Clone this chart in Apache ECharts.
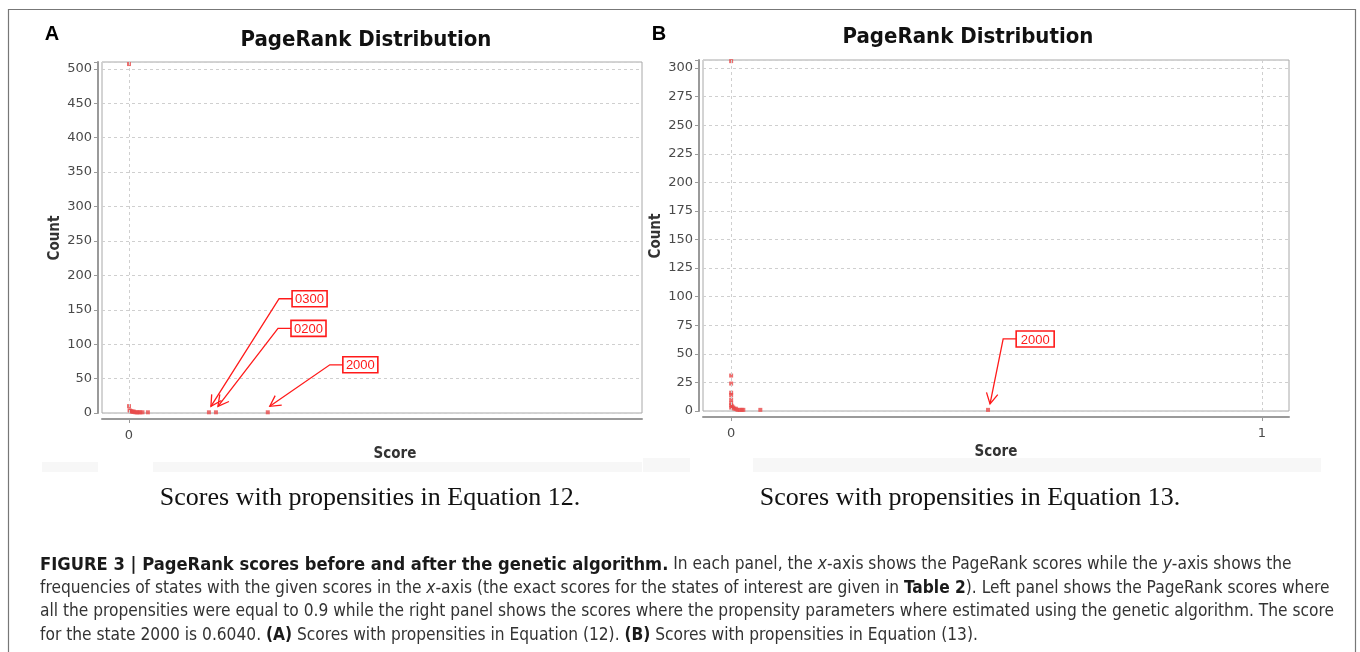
<!DOCTYPE html>
<html><head><meta charset="utf-8">
<script src="https://cdn.jsdelivr.net/npm/echarts@6/dist/echarts.min.js"></script>
<style>html,body{margin:0;padding:0;background:#fff}#c{width:1360px;height:652px}</style>
</head><body><div id="c"></div>
<script>
// Panel A data (Equation 12 propensities)
const scoresA = [0, 0, 0.001, 0.003, 0.005, 0.007, 0.009, 0.012, 0.015, 0.018, 0.021, 0.025, 0.035, 0.148, 0.161, 0.257];
const countsA = [507, 10, 4, 3, 2, 2, 2, 1, 1, 1, 1, 1, 1, 1, 1, 1];
// Panel B data (Equation 13 propensities)
const scoresB = [0, 0, 0, 0, 0, 0, 0, 0, 0, 0.002, 0.004, 0.006, 0.009, 0.012, 0.016, 0.020, 0.023, 0.055, 0.484];
const countsB = [306, 31, 24, 16, 14, 10, 7, 5, 3, 4, 3, 2, 2, 1, 1, 1, 1, 1, 1];
// Annotations: state name, target point, label anchor (data coords)
const annotNamesA = ['0300', '0200', '2000'];
const annotTargetScoreA = [0.148, 0.161, 0.257];
const annotTargetCountA = [1, 1, 1];
const annotLabelScoreA = [0.302, 0.300, 0.396];
const annotLabelCountA = [166, 123, 70];
const annotNamesB = ['2000'];
const annotTargetScoreB = [0.484];
const annotTargetCountB = [1];
const annotLabelScoreB = [0.537];
const annotLabelCountB = [63];
// Tick labels
const xTicksA = [0];
const xTicksB = [0, 1];
const yTicksA = [0, 50, 100, 150, 200, 250, 300, 350, 400, 450, 500];
const yTicksB = [0, 25, 50, 75, 100, 125, 150, 175, 200, 225, 250, 275, 300];

const RED = '#ff1a1a';
const PT = '#e84a4a';
const chart = echarts.init(document.getElementById('c'), null, {renderer: 'canvas'});

function zipPts(xs, ys) { return xs.map((x, i) => [x, ys[i]]); }
function zipAnn(a, b, c, d) { return a.map((v, i) => [v, b[i], c[i], d[i]]); }

function makeRender(names, boxW) {
  return function (params, api) {
    const tip0 = api.coord([api.value(0), api.value(1)]);
    const lab = api.coord([api.value(2), api.value(3)]);
    const tip = [tip0[0] + 2, tip0[1] - 6];
    const elbow = [lab[0] - 13, lab[1]];
    let dx = elbow[0] - tip[0], dy = elbow[1] - tip[1];
    const len = Math.sqrt(dx * dx + dy * dy); dx /= len; dy /= len;
    const L = 12, a = 0.5;
    const rot = (ang) => [tip[0] + L * (dx * Math.cos(ang) - dy * Math.sin(ang)), tip[1] + L * (dx * Math.sin(ang) + dy * Math.cos(ang))];
    const h1 = rot(a), h2 = rot(-a);
    return {type: 'group', children: [
      {type: 'polyline', shape: {points: [lab, elbow, tip]}, style: {stroke: RED, fill: 'none', lineWidth: 1.3}},
      {type: 'polyline', shape: {points: [h1, tip, h2]}, style: {stroke: RED, fill: 'none', lineWidth: 1.3}},
      {type: 'rect', shape: {x: lab[0], y: lab[1] - 8, width: boxW, height: 16}, style: {fill: '#fff', stroke: RED, lineWidth: 1.6}},
      {type: 'text', style: {text: names[params.dataIndex], x: lab[0] + boxW / 2, y: lab[1] + 1, align: 'center', verticalAlign: 'middle', fill: RED, font: '13px "Liberation Sans", Arial, sans-serif'}}
    ]};
  };
}

function xAxisCfg(gi, min, max, ticks) {
  return {type: 'value', gridIndex: gi, min: min, max: max, offset: 6,
    axisLine: {show: true, onZero: false, lineStyle: {color: '#9a9a9a', width: 2}},
    axisTick: {show: true, customValues: ticks, length: 4, lineStyle: {color: '#9a9a9a'}},
    axisLabel: {show: true, customValues: ticks, color: '#4a4a4a', fontSize: 13, fontFamily: 'DejaVu Sans', margin: 10,
      formatter: v => (ticks.indexOf(v) >= 0 ? String(v) : '')},
    splitLine: {show: false}};
}
function yAxisCfg(gi, max, interval, ticks) {
  return {type: 'value', gridIndex: gi, min: 0, max: max, interval: interval, offset: 4,
    axisLine: {show: true, onZero: false, lineStyle: {color: '#9a9a9a', width: 2}},
    axisTick: {show: true, length: 4, lineStyle: {color: '#9a9a9a'}},
    axisLabel: {color: '#4a4a4a', fontSize: 13, fontFamily: 'DejaVu Sans', margin: 6,
      formatter: v => (ticks.indexOf(v) >= 0 ? String(v) : '')},
    splitLine: {show: true, lineStyle: {color: '#cfcfcf', type: [3, 3], width: 1}}};
}

const vline = (vals) => ({silent: true, symbol: 'none', label: {show: false}, animation: false,
  lineStyle: {color: '#cfcfcf', type: [3, 3], width: 1}, data: vals.map(v => ({xAxis: v}))});

const CAPF = '"Liberation Sans Narrow", "DejaVu Sans Condensed", sans-serif';
const CAPS = 17.2;
const capStyle = {
  b: {fontWeight: 'bold', fill: '#1a1a1a', fontSize: 18.2, fontFamily: CAPF},
  t: {fontWeight: 'bold', fill: '#1a1a1a', fontSize: CAPS, fontFamily: CAPF},
  i: {fontStyle: 'italic', fill: '#333', fontSize: CAPS, fontFamily: CAPF}
};
function capLine(y, txt) {
  return {type: 'text', x: 40, y: y, style: {text: txt, rich: capStyle, fill: '#333', fontSize: CAPS, fontFamily: CAPF, verticalAlign: 'middle'}};
}
const titleFont = {fontWeight: 'bold', fontSize: 22, fontFamily: '"DejaVu Sans Condensed", "DejaVu Sans", sans-serif', fill: '#111'};
const axName = {fontWeight: 'bold', fontSize: 15, fontFamily: '"DejaVu Sans Condensed", "DejaVu Sans"', fill: '#333', align: 'center', verticalAlign: 'middle'};
const subCap = {fontSize: 26, fontFamily: '"Liberation Serif", "Times New Roman", serif', fill: '#111', align: 'center', verticalAlign: 'middle'};

chart.setOption({
  animation: false,
  backgroundColor: '#fff',
  grid: [
    {left: 102, right: 718, top: 62, bottom: 239, show: true, borderColor: '#a8a8a8', borderWidth: 1, backgroundColor: '#fff'},
    {left: 703, right: 71, top: 60, bottom: 241, show: true, borderColor: '#a8a8a8', borderWidth: 1, backgroundColor: '#fff'}
  ],
  xAxis: [xAxisCfg(0, -0.05, 0.95, xTicksA), xAxisCfg(1, -0.053, 1.051, xTicksB)],
  yAxis: [yAxisCfg(0, 510, 50, yTicksA), yAxisCfg(1, 307, 25, yTicksB)],
  series: [
    {type: 'scatter', xAxisIndex: 0, yAxisIndex: 0, symbol: 'rect', symbolSize: 4, itemStyle: {color: PT},
      data: zipPts(scoresA, countsA), markLine: vline(xTicksA), z: 3},
    {type: 'scatter', xAxisIndex: 1, yAxisIndex: 1, symbol: 'rect', symbolSize: 4, itemStyle: {color: PT},
      data: zipPts(scoresB, countsB), markLine: vline(xTicksB), z: 3},
    {type: 'custom', xAxisIndex: 0, yAxisIndex: 0, clip: false, z: 4, encode: {x: [0, 2], y: [1, 3]},
      renderItem: makeRender(annotNamesA, 35),
      data: zipAnn(annotTargetScoreA, annotTargetCountA, annotLabelScoreA, annotLabelCountA)},
    {type: 'custom', xAxisIndex: 1, yAxisIndex: 1, clip: false, z: 4, encode: {x: [0, 2], y: [1, 3]},
      renderItem: makeRender(annotNamesB, 38),
      data: zipAnn(annotTargetScoreB, annotTargetCountB, annotLabelScoreB, annotLabelCountB)}
  ],
  graphic: [
    {type: 'rect', x: 0, y: 0, shape: {x: 8.5, y: 9.5, width: 1347, height: 660}, style: {fill: 'none', stroke: '#777', lineWidth: 1.2}, z: -10},
    {type: 'rect', x: 0, y: 0, shape: {x: 42, y: 462, width: 56, height: 10}, style: {fill: '#f7f7f7'}, z: -5},
    {type: 'rect', x: 0, y: 0, shape: {x: 153, y: 462, width: 489, height: 10}, style: {fill: '#f7f7f7'}, z: -5},
    {type: 'rect', x: 0, y: 0, shape: {x: 643, y: 458, width: 47, height: 14}, style: {fill: '#f7f7f7'}, z: -5},
    {type: 'rect', x: 0, y: 0, shape: {x: 753, y: 458, width: 568, height: 14}, style: {fill: '#f7f7f7'}, z: -5},
    {type: 'text', x: 52, y: 34, style: {text: 'A', align: 'center', verticalAlign: 'middle', fontWeight: 'bold', fontSize: 20, fontFamily: '"Liberation Sans", Arial', fill: '#000'}},
    {type: 'text', x: 659, y: 34, style: {text: 'B', align: 'center', verticalAlign: 'middle', fontWeight: 'bold', fontSize: 20, fontFamily: '"Liberation Sans", Arial', fill: '#000'}},
    {type: 'text', x: 366, y: 40, style: Object.assign({text: 'PageRank Distribution', align: 'center', verticalAlign: 'middle'}, titleFont)},
    {type: 'text', x: 968, y: 37, style: Object.assign({text: 'PageRank Distribution', align: 'center', verticalAlign: 'middle'}, titleFont)},
    {type: 'text', x: 55, y: 238, rotation: Math.PI / 2, style: Object.assign({text: 'Count'}, axName)},
    {type: 'text', x: 656, y: 236, rotation: Math.PI / 2, style: Object.assign({text: 'Count'}, axName)},
    {type: 'text', x: 395, y: 454, style: Object.assign({text: 'Score'}, axName)},
    {type: 'text', x: 996, y: 452, style: Object.assign({text: 'Score'}, axName)},
    {type: 'text', x: 370, y: 498, style: Object.assign({text: 'Scores with propensities in Equation 12.'}, subCap)},
    {type: 'text', x: 970, y: 498, style: Object.assign({text: 'Scores with propensities in Equation 13.'}, subCap)},
    capLine(565, '{b|FIGURE 3 | PageRank scores before and after the genetic algorithm.} In each panel, the {i|x}-axis shows the PageRank scores while the {i|y}-axis shows the'),
    capLine(589, 'frequencies of states with the given scores in the {i|x}-axis (the exact scores for the states of interest are given in {t|Table 2}). Left panel shows the PageRank scores where'),
    capLine(612, 'all the propensities were equal to 0.9 while the right panel shows the scores where the propensity parameters where estimated using the genetic algorithm. The score'),
    capLine(636, 'for the state 2000 is 0.6040. {t|(A)} Scores with propensities in Equation (12). {t|(B)} Scores with propensities in Equation (13).')
  ]
});
</script></body></html>
